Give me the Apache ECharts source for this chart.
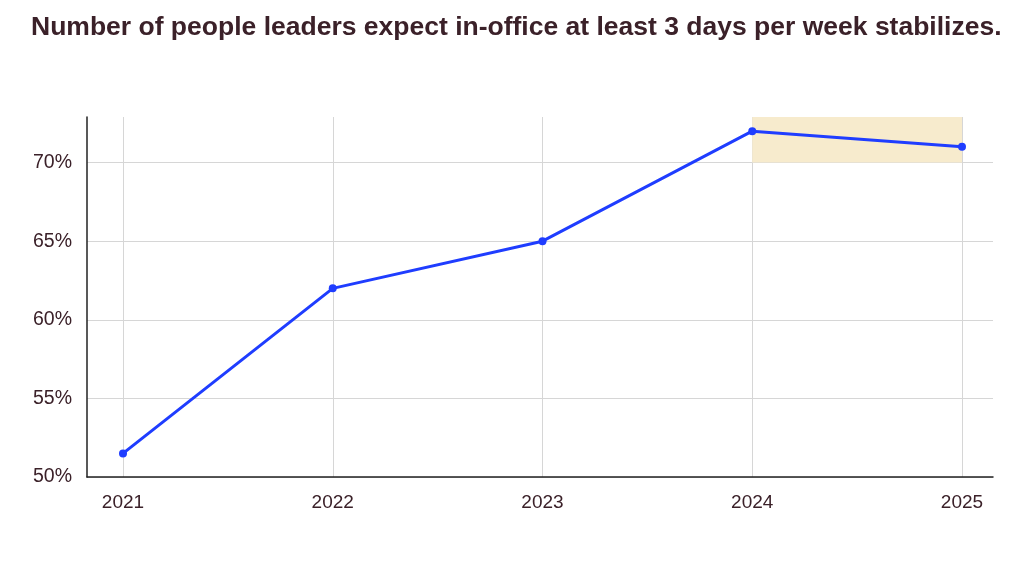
<!DOCTYPE html>
<html>
<head>
<meta charset="utf-8">
<script src="https://cdn.jsdelivr.net/npm/echarts@6/dist/echarts.min.js"></script>
<style>html,body{margin:0;padding:0;background:#fff}#c{width:1024px;height:576px}</style>
</head>
<body>
<div id="c"></div>
<script>
const titleText = 'Number of people leaders expect in-office at least 3 days per week stabilizes.';
const years = ['2021', '2022', '2023', '2024', '2025'];
const shareInOffice = [51.5, 62, 65, 72, 71];
const highlightRange = { fromYear: '2024', toYear: '2025', fromValue: 70, toValue: 72.9 };
const yMin = 50, yMax = 72.9, yStep = 5;

const textColor = '#3b2129';
const font = '"Liberation Sans", Arial, sans-serif';
const chart = echarts.init(document.getElementById('c'));
chart.setOption({
  animation: false,
  backgroundColor: '#fff',
  title: {
    text: titleText, left: 31, top: 14, padding: 0,
    textStyle: { fontFamily: font, fontSize: 26.5, fontWeight: 'bold', color: textColor }
  },
  grid: [
    { left: 87, right: 31, top: 117, bottom: 99 },
    { left: 123, right: 62, top: 117, bottom: 99 }
  ],
  xAxis: [
    { gridIndex: 0, type: 'value', min: 0, max: 1,
      axisLine: { show: true, onZero: false, lineStyle: { color: '#222', width: 1.5 } },
      axisTick: { show: false }, axisLabel: { show: false }, splitLine: { show: false } },
    { gridIndex: 1, type: 'category', data: years, boundaryGap: false,
      axisLine: { show: false }, axisTick: { show: false },
      axisLabel: { color: textColor, fontFamily: font, fontSize: 19, margin: 16 },
      splitLine: { show: true, lineStyle: { color: '#d6d6d6', width: 1 } } }
  ],
  yAxis: [
    { gridIndex: 0, type: 'value', min: yMin, max: yMax, interval: yStep,
      axisLine: { show: true, onZero: false, lineStyle: { color: '#222', width: 1.5 } },
      axisTick: { show: false },
      axisLabel: { color: textColor, fontFamily: font, fontSize: 19.5, margin: 15, showMaxLabel: false,
        formatter: v => (v % yStep === 0 ? v + '%' : '') },
      splitLine: { show: true, showMaxLine: false, lineStyle: { color: '#d6d6d6', width: 1 } } },
    { gridIndex: 1, type: 'value', min: yMin, max: yMax, show: false, splitLine: { show: false } }
  ],
  series: [{
    type: 'line', xAxisIndex: 1, yAxisIndex: 1, data: shareInOffice,
    symbol: 'circle', symbolSize: 8,
    lineStyle: { color: '#1f3dff', width: 3 },
    itemStyle: { color: '#1f3dff' },
    markArea: {
      silent: true,
      itemStyle: { color: '#f7ebcd' },
      data: [[
        { xAxis: highlightRange.fromYear, yAxis: highlightRange.fromValue },
        { xAxis: highlightRange.toYear, yAxis: highlightRange.toValue }
      ]]
    }
  }]
});
</script>
</body>
</html>
